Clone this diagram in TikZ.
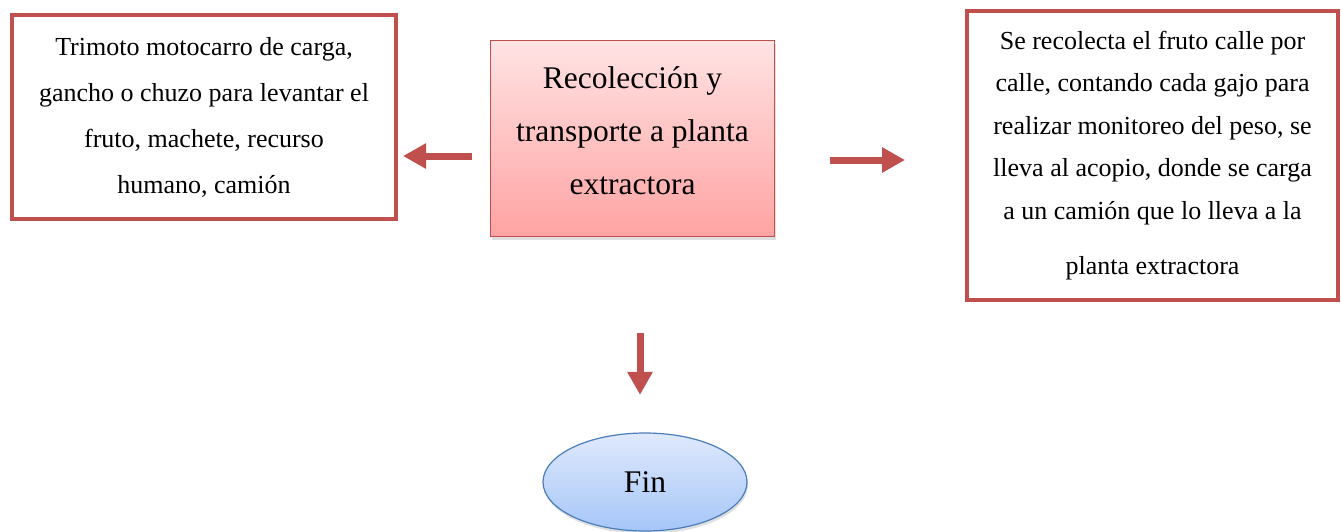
\documentclass[tikz,border=0pt]{standalone}
\usepackage{fontspec}
\setmainfont{Liberation Serif}
\usepackage{xcolor}
\usetikzlibrary{arrows.meta, shadows, shapes.geometric}

\definecolor{rojo}{HTML}{C0504D}
\definecolor{rosaA}{HTML}{FFE3E3}
\definecolor{rosaB}{HTML}{FFA3A3}
\definecolor{azul}{HTML}{4A7EBB}
\definecolor{celesteA}{HTML}{DFE9FC}
\definecolor{celesteB}{HTML}{A6C6F8}

\begin{document}
\begin{tikzpicture}[x=1pt, y=-1pt,
              caja/.style = {draw=rojo, line width=4pt, fill=white, inner sep=0pt,
              align=center, font=\fontsize{26}{46}\selectfont},
              proceso/.style = {draw=rojo, line width=1pt, top color=rosaA, bottom color=rosaB,
              inner sep=0pt, align=center, font=\fontsize{31.5}{53}\selectfont,
              drop shadow={shadow xshift=1pt, shadow yshift=-3pt, opacity=0.25}},
              final/.style = {ellipse, draw=azul, line width=1.2pt, top color=celesteA,
              bottom color=celesteB, inner sep=0pt, font=\fontsize{31.5}{38}\selectfont,
              drop shadow={shadow xshift=1pt, shadow yshift=-3pt, opacity=0.25}},
              flecha/.style = {draw=rojo, line width=7pt, -{Triangle[length=23pt, width=24pt]}} ]

\useasboundingbox (0,0) rectangle (1341,531);

\node (recol) [proceso, minimum width=284pt, minimum height=196pt, text depth=15pt] at (632.5,138.5)
  {Recolección y\\ transporte a planta\\ extractora};

\node (trimoto) [caja, minimum width=384pt, minimum height=204pt] at (204,117)
  {Trimoto motocarro de carga,\\ gancho o chuzo para levantar el\\ fruto, machete, recurso\\ humano, camión};

\node (recolecta) [caja, minimum width=371pt, minimum height=289pt, font=\fontsize{26}{42.5}\selectfont]
  at (1152.5,155.5)
  {Se recolecta el fruto calle por\\ calle, contando cada gajo para\\ realizar monitoreo del peso, se\\
   lleva al acopio, donde se carga\\ a un camión que lo lleva a la\\[13pt] planta extractora};

\node (fin) [final, minimum width=204pt, minimum height=98pt] at (645,482) {Fin};

\draw[flecha, shorten <=18pt, shorten >=5pt] ([yshift=-17.5pt]recol.west)
      -- ([yshift=-17.5pt]recol.west -| trimoto.east);
\draw[flecha, shorten <=54.5pt, shorten >=60pt] ([yshift=-21.5pt]recol.east)
      -- ([yshift=-21.5pt]recol.east -| recolecta.west);
\draw[flecha, shorten <=95.5pt, shorten >=37.5pt] ([xshift=-5pt]fin.north |- recol.south)
      -- ([xshift=-5pt]fin.north);
\end{tikzpicture}
\end{document}
